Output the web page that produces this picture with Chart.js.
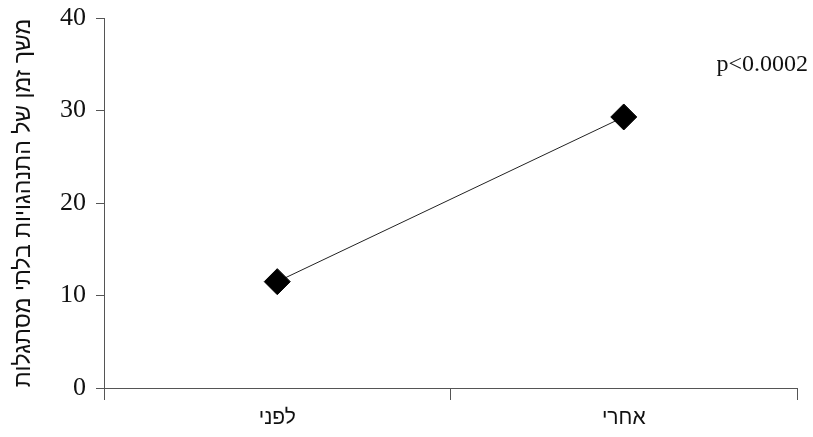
<!DOCTYPE html>
<html>
<head>
<meta charset="utf-8">
<script src="https://cdn.jsdelivr.net/npm/chart.js@4"></script>
<style>
  html, body { margin: 0; padding: 0; background: #fff; }
  #wrap { width: 813px; height: 437px; }
</style>
</head>
<body>
<div id="wrap"><canvas id="myChart"></canvas></div>
<script>
// data
var categories = ["לפני", "אחרי"];
var values = [11.5, 29.3];
var yTicks = [0, 10, 20, 30, 40];
var yTitle = "משך זמן של התנהגויות בלתי מסתגלות";
var pNote = "p<0.0002";

var axisColor = "#555";
var serif = "'Liberation Serif', 'Times New Roman', Times, serif";
var sans = "'Liberation Sans', Arial, sans-serif";

// small plugin for the p-value note in the top right
var noteText = {
    id: "noteText",
    afterDraw: function(chart) {
        var ctx = chart.ctx;
        ctx.save();
        ctx.fillStyle = "#111";
        ctx.font = "24px " + serif;
        ctx.textAlign = "right";
        ctx.textBaseline = "alphabetic";
        ctx.fillText(pNote, 808, 71);
        ctx.restore();
    }
};

new Chart(document.getElementById("myChart"), {
    type: "line",
    data: {
        labels: categories,
        datasets: [{
            data: values,
            borderColor: "#222",
            borderWidth: 1,
            fill: false,
            tension: 0,
            pointStyle: "rectRot",
            pointRadius: 13,
            pointHoverRadius: 13,
            pointBackgroundColor: "#000",
            pointBorderColor: "#000",
            pointBorderWidth: 1
        }]
    },
    options: {
        responsive: true,
        maintainAspectRatio: false,
        animation: false,
        layout: { padding: { left: 0, right: 16, top: 18, bottom: 0 } },
        plugins: {
            legend: { display: false },
            tooltip: { enabled: false }
        },
        scales: {
            x: {
                offset: true,
                grid: { offset: true, drawOnChartArea: false, drawTicks: true, tickLength: 12, color: axisColor },
                border: { display: true, color: axisColor, width: 1 },
                ticks: { color: "#111", padding: 6, font: { family: sans, size: 21 } },
                afterFit: function(scale) { scale.height = 49; }
            },
            y: {
                min: 0,
                max: 40,
                afterBuildTicks: function(scale) {
                    scale.ticks = yTicks.map(function(v) { return { value: v }; });
                },
                grid: { drawOnChartArea: false, drawTicks: true, tickLength: 8, color: axisColor },
                border: { display: true, color: axisColor, width: 1 },
                ticks: { color: "#111", padding: 10, font: { family: serif, size: 26 } },
                title: {
                    display: true,
                    text: yTitle,
                    color: "#111",
                    padding: { top: 10, bottom: 0 },
                    font: { family: sans, size: 23 }
                },
                afterFit: function(scale) {
                    scale.width = 104;
                    scale.paddingTop = 0;
                    scale.paddingBottom = 0;
                }
            }
        }
    },
    plugins: [noteText]
});
</script>
</body>
</html>
